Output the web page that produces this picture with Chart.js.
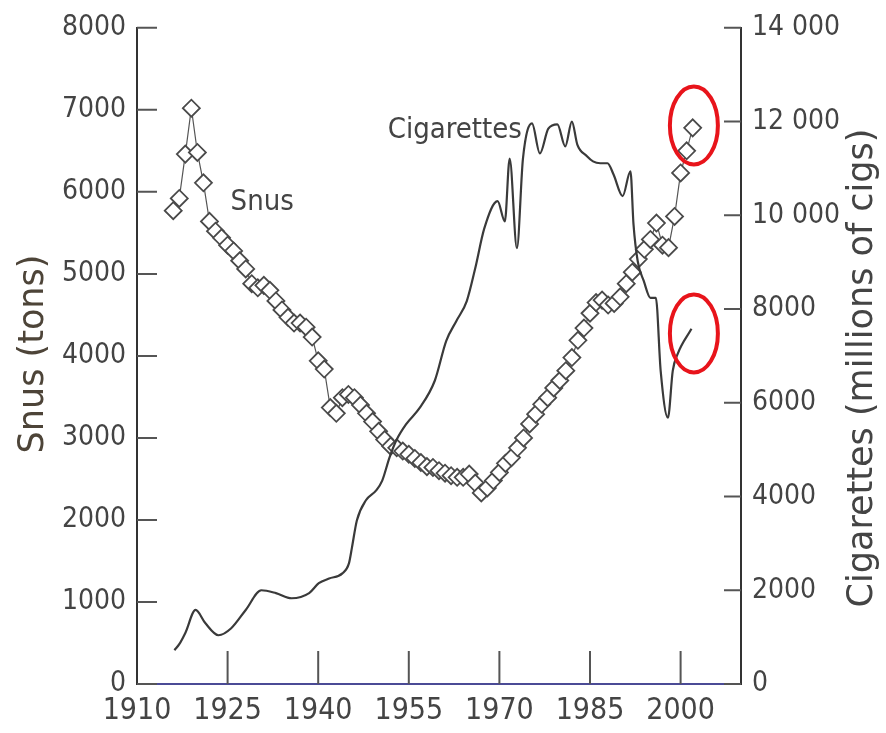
<!DOCTYPE html>
<html>
<head>
<meta charset="utf-8">
<script src="https://cdn.jsdelivr.net/npm/chart.js@4.4.1/dist/chart.umd.min.js"></script>
<style>
  html, body { margin: 0; padding: 0; background: #fff; }
  #wrap { width: 886px; height: 733px; }
</style>
</head>
<body>
<div id="wrap"><canvas id="chart" width="886" height="733"></canvas></div>
<script>
// Snus sales (tons), one diamond per year
const snusYears = [1916, 1917, 1918, 1919, 1920, 1921, 1922, 1923, 1924, 1925, 1926, 1927, 1928, 1929, 1930,
  1931, 1932, 1933, 1934, 1935, 1936, 1937, 1938, 1939, 1940, 1941, 1942, 1943, 1944, 1945,
  1946, 1947, 1948, 1949, 1950, 1951, 1952, 1953, 1954, 1955, 1956, 1957, 1958, 1959, 1960,
  1961, 1962, 1963, 1964, 1965, 1966, 1967, 1968, 1969, 1970, 1971, 1972, 1973, 1974, 1975,
  1976, 1977, 1978, 1979, 1980, 1981, 1982, 1983, 1984, 1985, 1986, 1987, 1988, 1989, 1990,
  1991, 1992, 1993, 1994, 1995, 1996, 1997, 1998, 1999, 2000, 2001, 2002];
const snusTons = [5770, 5920, 6460, 7020, 6480, 6110, 5640, 5520, 5440, 5350, 5280, 5160, 5060, 4880, 4830,
  4860, 4800, 4670, 4560, 4470, 4400, 4400, 4350, 4230, 3940, 3840, 3370, 3300, 3490, 3530,
  3490, 3400, 3300, 3200, 3080, 2980, 2900, 2880, 2840, 2800, 2750, 2700, 2650, 2640, 2600,
  2570, 2540, 2520, 2520, 2560, 2450, 2330, 2390, 2480, 2580, 2690, 2760, 2880, 3000, 3170,
  3290, 3410, 3490, 3610, 3700, 3820, 3980, 4190, 4340, 4520, 4650, 4680, 4620, 4640, 4720,
  4880, 5020, 5180, 5300, 5420, 5620, 5350, 5320, 5700, 6230, 6500, 6780];

// Cigarette sales (millions of cigs)
const cigYears = [1916.2, 1917, 1918, 1919.7, 1921.3, 1923.5, 1925.6, 1928, 1930.6, 1933, 1935.6, 1938.5,
  1940.1, 1941.8, 1944, 1945.1, 1945.6, 1946.4, 1947.9, 1949.6, 1950.6, 1951.8, 1952.9, 1954.6,
  1956.8, 1959.3, 1961.2, 1962.9, 1964.6, 1966, 1967.5, 1969.7, 1970.9, 1971.7, 1972.9, 1973.9,
  1975.4, 1976.7, 1978.1, 1979.6, 1980.9, 1982, 1982.9, 1984.5, 1985.5, 1986.7, 1987.9, 1988.9,
  1990.4, 1991.7, 1992.2, 1992.9, 1993.9, 1995, 1995.9, 1996.7, 1997.9, 1998.7, 1999.5, 2001.8];
const cigMillions = [720, 850, 1090, 1580, 1300, 1040, 1190, 1580, 2000, 1940, 1830, 1940,
  2150, 2250, 2360, 2580, 2920, 3490, 3920, 4130, 4340, 4830, 5190, 5550,
  5890, 6470, 7320, 7750, 8170, 8870, 9720, 10300, 9870, 11210, 9300, 11210,
  11960, 11320, 11850, 11940, 11470, 12000, 11510, 11260, 11150, 11110, 11110, 10870,
  10410, 10940, 9810, 9020, 8600, 8240, 8240, 6680, 5680, 6680, 7040, 7580];

const xTicks = [1910, 1925, 1940, 1955, 1970, 1985, 2000];
const snusTicks = [0, 1000, 2000, 3000, 4000, 5000, 6000, 7000, 8000];
const cigTicks = [0, 2000, 4000, 6000, 8000, 10000, 12000, 14000];
const cigTickLabels = ['0', '2000', '4000', '6000', '8000', '10 000', '12 000', '14 000'];

const INK = '#444';
const TICK_FONT = '"DejaVu Sans Condensed", "DejaVu Sans", sans-serif';
const TEXT_FONT = '"DejaVu Sans", sans-serif';

// tick marks pointing into the plot area
const innerTicks = {
  id: 'innerTicks',
  afterDatasetsDraw(chart) {
    const { ctx, chartArea: a, scales } = chart;
    ctx.save();
    ctx.strokeStyle = '#555';
    ctx.lineWidth = 2;
    ctx.beginPath();
    snusTicks.forEach(v => {
      const y = scales.ySnus.getPixelForValue(v);
      ctx.moveTo(a.left, y); ctx.lineTo(a.left + 20, y);
    });
    cigTicks.forEach(v => {
      const y = scales.yCig.getPixelForValue(v);
      ctx.moveTo(a.right - 17, y); ctx.lineTo(a.right, y);
    });
    xTicks.slice(1).forEach(v => {
      const x = scales.x.getPixelForValue(v);
      ctx.moveTo(x, a.bottom); ctx.lineTo(x, a.bottom - 33);
    });
    ctx.stroke();
    ctx.restore();
  }
};

// axis titles, series labels and the two red rings
const notes = {
  id: 'notes',
  afterDraw(chart) {
    const { ctx, scales } = chart;
    const { x, ySnus, yCig } = scales;
    ctx.save();
    ctx.fillStyle = INK;
    ctx.textAlign = 'center';
    ctx.textBaseline = 'middle';

    ctx.font = '35px ' + TEXT_FONT;
    ctx.save();
    ctx.translate(34, 354);
    ctx.rotate(-Math.PI / 2);
    ctx.fillStyle = '#4d4438';
    ctx.fillText('Snus (tons)', 0, 0);
    ctx.restore();

    ctx.save();
    ctx.translate(863, 368);
    ctx.rotate(-Math.PI / 2);
    ctx.fillText('Cigarettes (millions of cigs)', 0, 0);
    ctx.restore();

    ctx.font = '29px ' + TICK_FONT;
    ctx.textAlign = 'left';
    ctx.fillText('Snus', x.getPixelForValue(1925.5), ySnus.getPixelForValue(5870));
    ctx.fillText('Cigarettes', x.getPixelForValue(1951.5), yCig.getPixelForValue(11800));

    ctx.strokeStyle = '#e8141b';
    ctx.lineWidth = 4;
    ctx.beginPath();
    ctx.ellipse(x.getPixelForValue(2002.2), ySnus.getPixelForValue(6810), 24, 39, 0, 0, Math.PI * 2);
    ctx.stroke();
    ctx.beginPath();
    ctx.ellipse(x.getPixelForValue(2002.2), yCig.getPixelForValue(7480), 24, 39, 0, 0, Math.PI * 2);
    ctx.stroke();
    ctx.restore();
  }
};

new Chart(document.getElementById('chart'), {
  type: 'line',
  data: {
    datasets: [{
      label: 'Cigarettes',
      yAxisID: 'yCig',
      data: cigYears.map((yr, i) => ({ x: yr, y: cigMillions[i] })),
      borderColor: '#3a3a3a',
      borderWidth: 2.2,
      cubicInterpolationMode: 'monotone',
      pointRadius: 0,
    }, {
      label: 'Snus',
      yAxisID: 'ySnus',
      data: snusYears.map((yr, i) => ({ x: yr, y: snusTons[i] })),
      borderColor: '#555',
      borderWidth: 1.2,
      pointStyle: 'rectRot',
      pointRadius: 8.5,
      pointBorderWidth: 1.8,
      pointBorderColor: '#4a4a4a',
      pointBackgroundColor: '#fff',
    }],
  },
  options: {
    responsive: false,
    animation: false,
    devicePixelRatio: 1,
    layout: { padding: { top: 26, left: 0, right: 0, bottom: 0 } },
    plugins: { legend: { display: false }, tooltip: { enabled: false } },
    scales: {
      x: {
        type: 'linear', min: 1910, max: 2010,
        afterBuildTicks: s => { s.ticks = xTicks.map(v => ({ value: v })); },
        afterFit: s => { s.height = 49; },
        grid: { display: false, drawTicks: false },
        border: { display: true, color: '#4b4b96', width: 2 },
        ticks: {
          color: INK, padding: 9, maxRotation: 0, autoSkip: false,
          font: { family: TICK_FONT, size: 30 },
          callback: v => String(v),
        },
      },
      ySnus: {
        type: 'linear', position: 'left', min: 0, max: 8000,
        afterBuildTicks: s => { s.ticks = snusTicks.map(v => ({ value: v })); },
        afterFit: s => { s.width = 137; },
        grid: { display: false, drawTicks: false },
        border: { display: true, color: '#333', width: 2 },
        ticks: {
          color: INK, padding: 11, font: { family: TICK_FONT, size: 28 },
          callback: v => String(v),
        },
      },
      yCig: {
        type: 'linear', position: 'right', min: 0, max: 14000,
        afterBuildTicks: s => { s.ticks = cigTicks.map(v => ({ value: v })); },
        afterFit: s => { s.width = 145; },
        grid: { display: false, drawTicks: false },
        border: { display: true, color: '#333', width: 2 },
        ticks: {
          color: INK, padding: 11, font: { family: TICK_FONT, size: 28 },
          callback: v => cigTickLabels[cigTicks.indexOf(v)],
        },
      },
    },
  },
  plugins: [innerTicks, notes],
});
</script>
</body>
</html>
